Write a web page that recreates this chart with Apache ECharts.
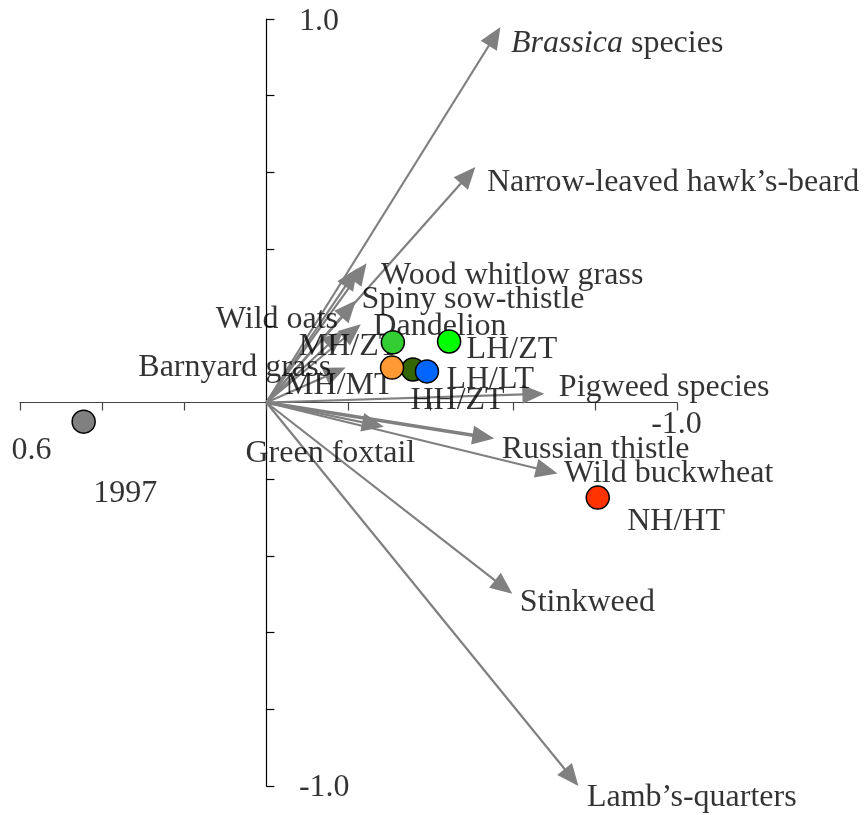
<!DOCTYPE html>
<html>
<head>
<meta charset="utf-8">
<script src="https://cdn.jsdelivr.net/npm/echarts@6/dist/echarts.min.js"></script>
<style>html,body{margin:0;padding:0;background:#fff}#c{width:867px;height:815px}</style>
</head>
<body>
<div id="c"></div>
<script>
// ---- data ----
const arrowNames = ['Brassica species','Narrow-leaved hawk\u2019s-beard','Wood whitlow grass','','Spiny sow-thistle','Dandelion','Wild oats','Barnyard grass','Pigweed species','Green foxtail','Russian thistle','Wild buckwheat','Stinkweed','Lamb\u2019s-quarters'];
const arrowX = [-0.570,-0.509,-0.244,-0.222,-0.218,-0.230,-0.188,-0.193,-0.677,-0.286,-0.555,-0.709,-0.599,-0.760];
const arrowY = [0.979,0.614,0.363,0.350,0.266,0.204,0.188,0.091,0.023,-0.063,-0.094,-0.185,-0.499,-1.000];

const siteNames = ['1997','MH/ZT','LH/ZT','HH/ZT','MH/MT','LH/LT','NH/HT'];
const siteX = [0.445,-0.308,-0.445,-0.357,-0.306,-0.391,-0.807];
const siteY = [-0.050,0.157,0.159,0.086,0.091,0.081,-0.248];

const xTickLabels = ['0.6','-1.0'];
const yTickLabels = ['1.0','-1.0'];

// ---- styles (positions of labels relative to marks, colours) ----
const FONT = "'Liberation Serif','Times New Roman',serif";
const FS = 32;
const arrowLabelPos = {
  'Brassica species':[11,17,'left'],
  'Narrow-leaved hawk\u2019s-beard':[12,16,'left'],
  'Wood whitlow grass':[15,13,'left'],
  'Spiny sow-thistle':[6,0,'left'],
  'Dandelion':[13,3,'left'],
  'Wild oats':[-5,-10,'right'],
  'Barnyard grass':[-14,0,'right'],
  'Pigweed species':[15,-6,'left'],
  'Green foxtail':[-53,27,'center'],
  'Russian thistle':[8,12,'left'],
  'Wild buckwheat':[7,1,'left'],
  'Stinkweed':[8,9,'left'],
  'Lamb\u2019s-quarters':[9,12,'left']
};
const arrowWidth = {'Russian thistle':3.5};
const siteStyle = {
  '1997':['#808080',[42,72,'center']],
  'MH/ZT':['#33cc33',[6,5,'right']],
  'LH/ZT':['#00ff00',[18,9,'left']],
  'HH/ZT':['#336600',[-2,32,'left']],
  'MH/MT':['#ff9933',[2,18,'right']],
  'LH/LT':['#0066ff',[20,9,'left']],
  'NH/HT':['#ff3300',[30,24,'left']]
};
const xTickLabelPos = {'0.6':[12,49,'center'], '-1.0':[0,23,'center']};
const yTickLabelPos = {'1.0':[33,3,'left'], '-1.0':[33,2,'left']};

const arrowData = arrowNames.map((n,i)=>({name:n, value:[arrowX[i], arrowY[i]]}));
const arrowLabelData = arrowData.filter(d=>d.name);
const siteData = siteNames.map((n,i)=>({name:n, value:[siteX[i], siteY[i]]}));
const tickLabelData = xTickLabels.map(s=>({name:s, value:[parseFloat(s),0], pos:xTickLabelPos[s]}))
  .concat(yTickLabels.map(s=>({name:s, value:[0,parseFloat(s)], pos:yTickLabelPos[s]})));

function lbl(pos){
  return {show:true, position:[pos[0],pos[1]], align:pos[2], verticalAlign:'middle',
    fontFamily:FONT, fontSize:FS, color:'#000', formatter:'{b}'};
}

const chart = echarts.init(document.getElementById('c'));
chart.setOption({
  animation:false,
  backgroundColor:'#fff',
  grid:{left:20, right:190, top:19, bottom:29, containLabel:false, outerBoundsMode:'none'},
  xAxis:{
    type:'value', min:-1.0, max:0.6, interval:0.2, inverse:true,
    axisLine:{onZero:true, lineStyle:{color:'#444', width:1.2}},
    axisTick:{show:true, inside:false, length:8, lineStyle:{color:'#444', width:1.2}},
    splitLine:{show:false},
    axisLabel:{show:false}
  },
  yAxis:{
    type:'value', min:-1.0, max:1.0, interval:0.2,
    axisLine:{onZero:true, lineStyle:{color:'#000', width:1.2}},
    axisTick:{show:true, inside:true, length:8, lineStyle:{color:'#000', width:1.2}},
    splitLine:{show:false},
    axisLabel:{show:false}
  },
  series:[
    {
      type:'custom', z:3,
      data:arrowData,
      renderItem:function(params, api){
        const o = api.coord([0,0]);
        const t = api.coord([api.value(0), api.value(1)]);
        const dx = t[0]-o[0], dy = t[1]-o[1];
        const L = Math.sqrt(dx*dx+dy*dy);
        const ux = dx/L, uy = dy/L;
        const hl = 22, hw = 9.5;
        const bx = t[0]-ux*hl, by = t[1]-uy*hl;
        const px = -uy, py = ux;
        const name = arrowNames[params.dataIndex];
        const w = arrowWidth[name] || 2.2;
        return {type:'group', children:[
          {type:'line', shape:{x1:o[0],y1:o[1],x2:bx+ux*2,y2:by+uy*2}, style:{stroke:'#808080', lineWidth:w}},
          {type:'polygon', shape:{points:[[t[0],t[1]],[bx+px*hw,by+py*hw],[bx-px*hw,by-py*hw]]}, style:{fill:'#808080'}}
        ]};
      }
    },
    {
      type:'scatter', z:4, symbolSize:1, itemStyle:{color:'rgba(0,0,0,0)'}, silent:true,
      data:tickLabelData.map(d=>({name:d.name, value:d.value, label:lbl(d.pos)}))
    },
    {
      type:'scatter', z:4, symbolSize:1, itemStyle:{color:'rgba(0,0,0,0)'}, silent:true,
      data:arrowLabelData.map(d=>{
        const l = lbl(arrowLabelPos[d.name]);
        if (d.name === 'Brassica species') {
          l.formatter = '{i|Brassica} species';
          l.rich = {i:{fontFamily:FONT, fontSize:FS, fontStyle:'italic', color:'#000'}};
        }
        return {name:d.name, value:d.value, label:l};
      })
    },
    {
      type:'scatter', z:5, symbolSize:1, itemStyle:{color:'rgba(0,0,0,0)'}, silent:true,
      data:siteData.map(d=>({name:d.name, value:d.value, label:lbl(siteStyle[d.name][1])}))
    },
    {
      type:'scatter', z:6, symbolSize:23,
      data:siteData.map(d=>({name:d.name, value:d.value,
        itemStyle:{color:siteStyle[d.name][0], borderColor:'#000', borderWidth:1.5, opacity:1}})),
      label:{show:false}
    }
  ]
});
</script>
</body>
</html>
